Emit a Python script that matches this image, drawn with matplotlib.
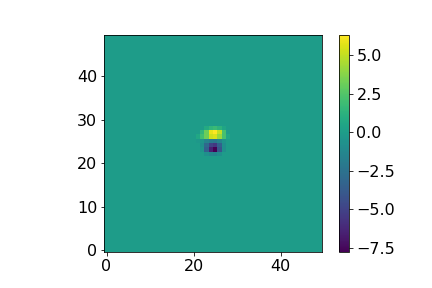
import numpy as np
import matplotlib
matplotlib.use("Agg")
import matplotlib.pyplot as plt

plt.rcParams['font.size'] = 16

grid_size = 50
# Non-zero cells of the dipole blob: (row, col, value)
rows = [28, 28, 28, 28, 28,
        27, 27, 27, 27, 27, 27,
        26, 26, 26, 26, 26, 26, 26, 26,
        25, 25, 25, 25, 25, 25, 25,
        24, 24, 24, 24, 24, 24,
        23, 23, 23, 23, 23, 23,
        22, 22, 22, 22]
cols = [23, 24, 25, 26, 27,
        22, 23, 24, 25, 26, 27,
        21, 22, 23, 24, 25, 26, 27, 28,
        21, 22, 23, 24, 25, 26, 27,
        22, 23, 24, 25, 26, 27,
        22, 23, 24, 25, 26, 27,
        23, 24, 25, 26]
vals = [0.8, 1.5, 1.8, 1.3, 0.5,
        1.5, 3.2, 5.8, 6.3, 5.0, 2.2,
        0.6, 2.0, 3.2, 5.2, 5.5, 4.2, 2.2, 0.5,
        -0.3, -0.5, -1.5, -2.0, -2.2, -1.5, -0.5,
        -0.8, -3.0, -5.0, -5.5, -3.5, -0.8,
        -0.5, -3.5, -6.5, -7.8, -4.0, -0.8,
        -0.7, -1.2, -1.3, -0.8]

data = np.zeros((grid_size, grid_size))
for r, c, v in zip(rows, cols, vals):
    data[r, c] = v

fig, ax = plt.subplots(figsize=(6, 4), dpi=72)
fig.subplots_adjust(bottom=0.1233, top=0.8785)
im = ax.imshow(data, origin='lower', cmap='viridis')
fig.colorbar(im)
fig.savefig('out.png')
